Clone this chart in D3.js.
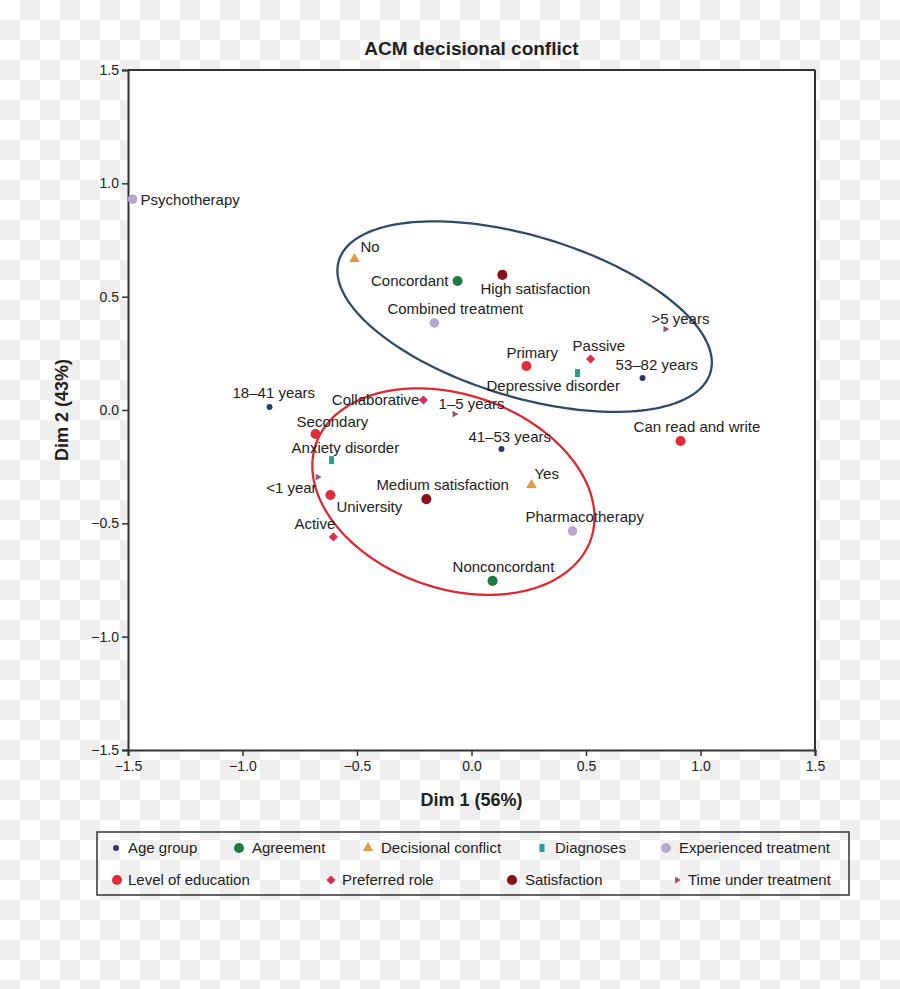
<!DOCTYPE html>
<html><head><meta charset="utf-8">
<script src="https://cdn.jsdelivr.net/npm/d3@7"></script>
<style>
body{margin:0;background:#fff}
text{font-family:"Liberation Sans",Arial,sans-serif;fill:#222}
</style>
</head><body>
<svg id="chart" width="900" height="989"></svg>
<script>
// ---------------- data ----------------
const categories = ["Age group","Agreement","Decisional conflict","Diagnoses","Experienced treatment","Level of education","Preferred role","Satisfaction","Time under treatment"];
const labels = ["Psychotherapy","No","Concordant","High satisfaction","Combined treatment",">5 years","Primary","Passive","Depressive disorder","53–82 years","18–41 years","Collaborative","1–5 years","Secondary","41–53 years","Can read and write","Anxiety disorder","Yes","<1 year","Medium satisfaction","University","Active","Pharmacotherapy","Nonconcordant"];
const dim1 = [-1.48,-0.511,-0.061,0.135,-0.162,0.847,0.240,0.520,0.463,0.747,-0.882,-0.210,-0.074,-0.681,0.131,0.913,-0.611,0.262,-0.672,-0.197,-0.616,-0.603,0.441,0.092];
const dim2 = [0.93,0.666,0.569,0.596,0.384,0.357,0.194,0.225,0.163,0.141,0.013,0.044,-0.018,-0.106,-0.172,-0.137,-0.221,-0.331,-0.296,-0.393,-0.375,-0.560,-0.534,-0.754];
const groups = [4,2,1,7,4,8,5,6,3,0,0,6,8,5,0,5,3,2,8,7,5,6,4,1];
const xTicks = [-1.5,-1.0,-0.5,0.0,0.5,1.0,1.5];
const yTicks = [-1.5,-1.0,-0.5,0.0,0.5,1.0,1.5];
// ellipses: center (dim1, dim2), semi-axes in data units, angle in degrees
const ellipseCx = [0.232,-0.079];
const ellipseCy = [0.412,-0.360];
const ellipseA = [0.848,0.636];
const ellipseB = [0.355,0.427];
const ellipseAngle = [-17,-19.6];

// ---------------- presentation ----------------
const colors = ["#2f3a6c","#1f7a44","#e59b45","#2a9d8f","#b6a5cf","#e12d37","#d8304f","#8a0e1d","#9c5278"];
const ellipseColors = ["#2f4a6a","#dc2a30"];
// label offsets [dx, dy, anchor]
const labelPos = [
 [8,1,"start"],[6,-12,"start"],[-9,0,"end"],[-22,14,"start"],[-47,-14,"start"],[-14,-10,"start"],
 [-20,-13,"start"],[-18,-13,"start"],[-91,13,"start"],[-27,-13,"start"],[-37,-14,"start"],[-4,0,"end"],
 [-16,-10,"start"],[-19,-12,"start"],[-33,-12,"start"],[-47,-14,"start"],[-40,-12,"start"],[3,-11,"start"],
 [-1,11,"end"],[-50,-14,"start"],[6,12,"start"],[-39,-13,"start"],[-47,-14,"start"],[-40,-14,"start"]
];
const legendPos = [[116,128,848],[239,252,848],[368,381,848],[542,555,848],[666,679,848],
                   [117,128,880],[331,342,880],[512,525,880],[677,688,880]];

const rectSym = {draw(ctx){ctx.rect(-2.5,-4,5,8);}};
function symbolFor(g){
  switch(g){
    case 0: return d3.symbol(d3.symbolCircle, 28)();
    case 1: return d3.symbol(d3.symbolCircle, 80)();
    case 2: return d3.symbol(d3.symbolTriangle, 48)();
    case 3: return d3.symbol(rectSym)();
    case 4: return d3.symbol(d3.symbolCircle, 72)();
    case 5: return d3.symbol(d3.symbolCircle, 80)();
    case 6: return d3.symbol(d3.symbolSquare, 42)();
    case 7: return d3.symbol(d3.symbolCircle, 80)();
    case 8: return d3.symbol(d3.symbolTriangle, 20)();
  }
}
function rotFor(g){ return g===8 ? 90 : (g===6 ? 45 : 0); }

const svg = d3.select("#chart");
const W=900,H=989;
const m = {l:128,r:815,t:70,b:750};

// checkerboard background
const defs = svg.append("defs");
const pat = defs.append("pattern").attr("id","chk").attr("width",40).attr("height",40).attr("patternUnits","userSpaceOnUse");
pat.append("rect").attr("width",40).attr("height",40).attr("fill","#ffffff");
pat.append("rect").attr("x",20).attr("y",0).attr("width",20).attr("height",20).attr("fill","#efefef");
pat.append("rect").attr("x",0).attr("y",20).attr("width",20).attr("height",20).attr("fill","#efefef");
svg.append("rect").attr("width",W).attr("height",H).attr("fill","url(#chk)");

const x = d3.scaleLinear().domain([-1.5,1.5]).range([m.l,m.r]);
const y = d3.scaleLinear().domain([-1.5,1.5]).range([m.b,m.t]);

// plot area
svg.append("rect").attr("x",m.l).attr("y",m.t).attr("width",m.r-m.l).attr("height",m.b-m.t).attr("fill","#fff");

// title
svg.append("text").attr("x",(m.l+m.r)/2).attr("y",55).attr("text-anchor","middle")
  .style("font-size","19px").style("font-weight","bold").text("ACM decisional conflict");

// axes
const fmt = d => d3.format(".1f")(d).replace("-","−");
const xAxis = svg.append("g").attr("transform",`translate(0,${m.b})`)
  .call(d3.axisBottom(x).tickValues(xTicks).tickFormat(fmt).tickSize(6).tickPadding(5));
const yAxis = svg.append("g").attr("transform",`translate(${m.l},0)`)
  .call(d3.axisLeft(y).tickValues(yTicks).tickFormat(fmt).tickSize(6).tickPadding(3));
[xAxis,yAxis].forEach(a=>{
  a.selectAll("path.domain").attr("stroke","#333").attr("stroke-width",2);
  a.selectAll(".tick line").attr("stroke","#333").attr("stroke-width",1.5);
  a.selectAll(".tick text").style("font-size","14px").style("font-family","'Liberation Sans',Arial,sans-serif").attr("fill","#222");
});
// top and right frame
svg.append("line").attr("x1",m.l).attr("x2",m.r).attr("y1",m.t).attr("y2",m.t).attr("stroke","#333").attr("stroke-width",2);
svg.append("line").attr("x1",m.r).attr("x2",m.r).attr("y1",m.t).attr("y2",m.b).attr("stroke","#333").attr("stroke-width",2);

// axis titles
svg.append("text").attr("x",(m.l+m.r)/2).attr("y",806).attr("text-anchor","middle")
  .style("font-size","18px").style("font-weight","bold").text("Dim 1 (56%)");
svg.append("text").attr("transform",`translate(68,${(m.t+m.b)/2}) rotate(-90)`).attr("text-anchor","middle")
  .style("font-size","18px").style("font-weight","bold").text("Dim 2 (43%)");

// ellipses
const line = d3.line().x(d=>x(d[0])).y(d=>y(d[1])).curve(d3.curveLinearClosed);
ellipseCx.forEach((cx,i)=>{
  const phi = ellipseAngle[i]*Math.PI/180;
  const pts = d3.range(0,180).map(k=>{
    const t = k/180*2*Math.PI;
    const u = ellipseA[i]*Math.cos(t), v = ellipseB[i]*Math.sin(t);
    return [cx + u*Math.cos(phi) - v*Math.sin(phi), ellipseCy[i] + u*Math.sin(phi) + v*Math.cos(phi)];
  });
  svg.append("path").attr("d",line(pts)).attr("fill","none")
    .attr("stroke",ellipseColors[i]).attr("stroke-width",2.3);
});

// points
const pts = labels.map((l,i)=>({label:l,d1:dim1[i],d2:dim2[i],g:groups[i],i}));
svg.append("g").selectAll("path").data(pts).join("path")
  .attr("d",d=>symbolFor(d.g))
  .attr("transform",d=>`translate(${x(d.d1)},${y(d.d2)}) rotate(${rotFor(d.g)})`)
  .attr("fill",d=>colors[d.g]);
svg.append("g").selectAll("text").data(pts).join("text")
  .attr("x",d=>x(d.d1)+labelPos[d.i][0])
  .attr("y",d=>y(d.d2)+labelPos[d.i][1])
  .attr("dy","0.35em")
  .attr("text-anchor",d=>labelPos[d.i][2])
  .style("font-size","15px")
  .text(d=>d.label);

// legend
svg.append("rect").attr("x",97).attr("y",832).attr("width",752).attr("height",63)
  .attr("fill","none").attr("stroke","#333").attr("stroke-width",1.5);
const lg = svg.append("g").selectAll("g").data(categories).join("g");
lg.append("path").attr("d",(d,i)=>symbolFor(i))
  .attr("transform",(d,i)=>`translate(${legendPos[i][0]},${legendPos[i][2]}) rotate(${rotFor(i)})`)
  .attr("fill",(d,i)=>colors[i]);
lg.append("text").attr("x",(d,i)=>legendPos[i][1]).attr("y",(d,i)=>legendPos[i][2]).attr("dy","0.35em")
  .style("font-size","15px").text(d=>d);
</script>
</body></html>
